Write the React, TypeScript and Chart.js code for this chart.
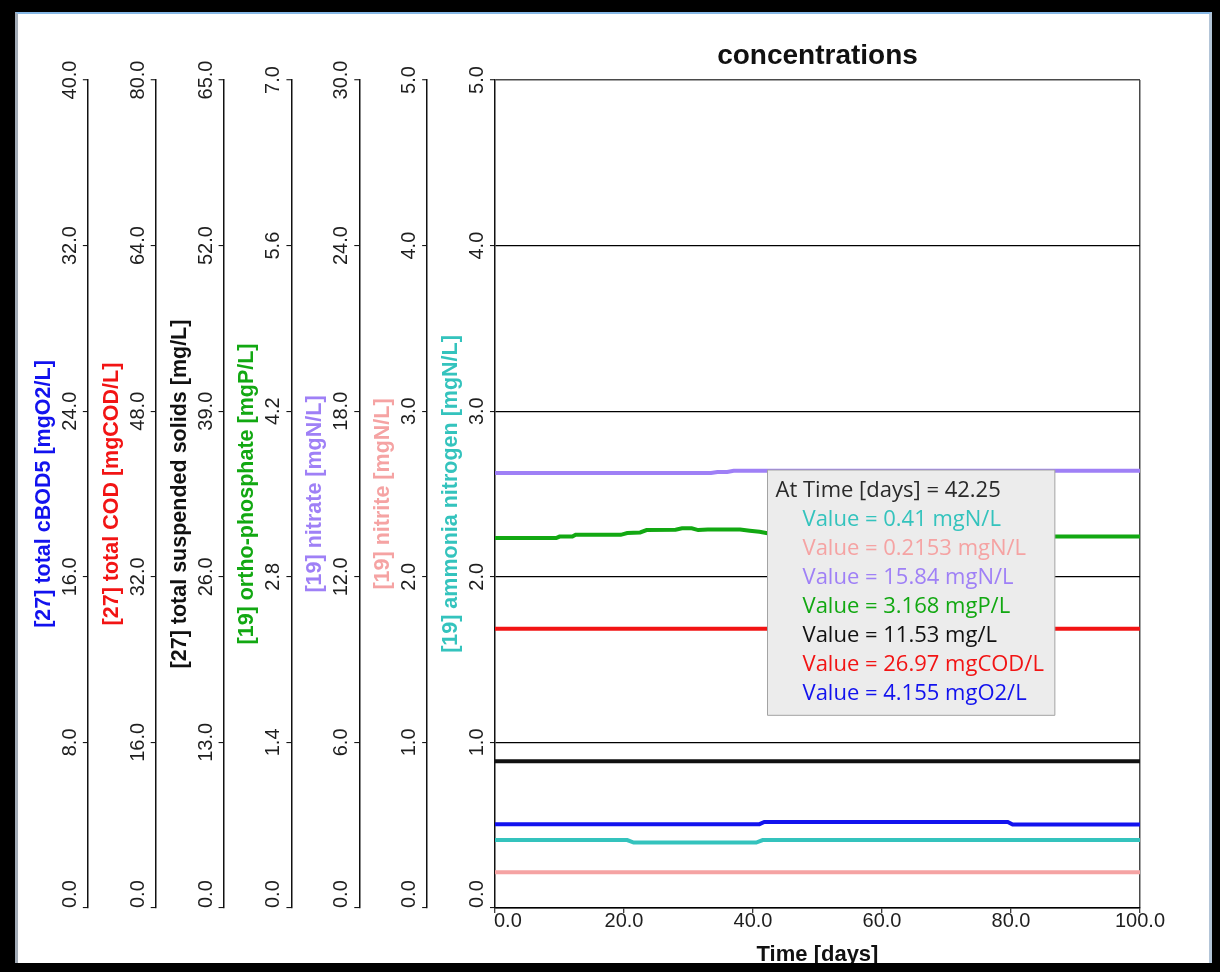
import { useEffect, useRef } from 'react';
import { Chart, registerables, Tooltip } from 'chart.js';

Chart.register(...registerables);

// Simulation output, sampled at the change points of each state variable (time in days)
const bodTime = [0, 41, 41.75, 42.25, 79.5, 80.25, 100];
const bodValues = [4.05, 4.05, 4.155, 4.155, 4.155, 4.03, 4.03];

const codTime = [0, 42.25, 100];
const codValues = [26.97, 26.97, 26.97];

const tssTime = [0, 42.25, 100];
const tssValues = [11.53, 11.53, 11.53];

const po4Time = [0, 9.5, 10, 12, 12.5, 19.5, 20.5, 22.5, 23.5, 28, 29, 30.5, 31.5, 33, 38, 39.5, 41, 42.25, 50, 60, 70, 80, 100];
const po4Values = [3.127, 3.127, 3.14, 3.14, 3.155, 3.155, 3.17, 3.175, 3.195, 3.198, 3.21, 3.21, 3.195, 3.2, 3.2, 3.19, 3.18, 3.168, 3.155, 3.148, 3.142, 3.14, 3.14];

const no3Time = [0, 33.5, 34.5, 36, 37, 42.25, 100];
const no3Values = [15.76, 15.76, 15.8, 15.8, 15.84, 15.84, 15.84];

const no2Time = [0, 42.25, 100];
const no2Values = [0.2153, 0.2153, 0.2153];

const nh4Time = [0, 20.5, 21.5, 40.5, 41.5, 42.25, 100];
const nh4Values = [0.41, 0.41, 0.395, 0.395, 0.41, 0.41, 0.41];

const seriesTimes = [bodTime, codTime, tssTime, po4Time, no3Time, no2Time, nh4Time];
const seriesValues = [bodValues, codValues, tssValues, po4Values, no3Values, no2Values, nh4Values];

const axisTitles = [
  '[27] total cBOD5 [mgO2/L]',
  '[27] total COD [mgCOD/L]',
  '[27] total suspended solids [mg/L]',
  '[19] ortho-phosphate [mgP/L]',
  '[19] nitrate [mgN/L]',
  '[19] nitrite [mgN/L]',
  '[19] ammonia nitrogen [mgN/L]',
];
const seriesUnits = ['mgO2/L', 'mgCOD/L', 'mg/L', 'mgP/L', 'mgN/L', 'mgN/L', 'mgN/L'];
const axisMax = [40, 80, 65, 7, 30, 5, 5];
const axisSteps = [8, 16, 13, 1.4, 6, 1, 1];
const seriesColors = ['#1212ee', '#f21414', '#111111', '#12a812', '#9f80f6', '#f5a3a3', '#34c3bd'];

const timeMax = 100;
const timeStep = 20;
const probeTime = 42.25;
// tooltip rows, top to bottom
const tooltipOrder = [6, 5, 4, 3, 2, 1, 0];

const FONT = "'Liberation Sans', Arial, Helvetica, sans-serif";
const TIP_FONT = "'Open Sans', 'Noto Sans', sans-serif";

const AXIS_W = 67.857;
const LABEL_GAP = 17.5;

const tickLabelPlugin = {
  id: 'tickLabels',
  afterDraw(chart: any) {
    const ctx = chart.ctx as CanvasRenderingContext2D;
    ctx.save();
    ctx.fillStyle = '#1e1e1e';
    ctx.font = `20px ${FONT}`;
    ctx.textBaseline = 'middle';
    axisMax.forEach((_, i) => {
      const scale = chart.scales['y' + i];
      scale.ticks.forEach((t: any) => {
        const y = scale.getPixelForValue(t.value);
        ctx.save();
        ctx.translate(scale.right - LABEL_GAP, y);
        ctx.rotate(-Math.PI / 2);
        ctx.textAlign = t.value === scale.min ? 'left' : 'center';
        ctx.fillText(Number(t.value).toFixed(1), 0, 0);
        ctx.restore();
      });
    });
    const xs = chart.scales.x;
    xs.ticks.forEach((t: any) => {
      const x = xs.getPixelForValue(t.value);
      ctx.textAlign = t.value === xs.min ? 'left' : 'center';
      ctx.fillText(Number(t.value).toFixed(1), t.value === xs.min ? x - 1 : x, xs.top + 13);
    });
    ctx.restore();
  },
};

(Tooltip.positioners as any).probe = function (this: any) {
  const chart = this.chart;
  return { x: chart.scales.x.getPixelForValue(probeTime), y: 455 };
};

export default function App() {
  const canvasRef = useRef<HTMLCanvasElement>(null);

  useEffect(() => {
    const canvas = canvasRef.current;
    if (!canvas) return;

    const datasets = seriesValues.map((vals, i) => ({
      label: axisTitles[i],
      data: vals.map((v, k) => ({ x: seriesTimes[i][k], y: v })),
      yAxisID: 'y' + i,
      borderColor: seriesColors[i],
      backgroundColor: seriesColors[i],
      borderWidth: 4,
      pointRadius: 0,
      pointHoverRadius: 0,
      tension: 0,
      fill: false,
    }));

    const scales: any = {
      x: {
        type: 'linear',
        position: 'bottom',
        min: 0,
        max: timeMax,
        ticks: { stepSize: timeStep, display: false },
        grid: {
          drawOnChartArea: true,
          color: (c: any) => (c.tick && c.tick.value === timeMax ? '#4a4a4a' : 'rgba(0,0,0,0)'),
          lineWidth: 1.5,
          tickColor: '#000',
          tickLength: 5,
          tickWidth: 1,
        },
        border: { display: true, color: '#000', width: 1.5 },
        title: {
          display: true,
          text: 'Time [days]',
          color: '#111',
          font: { family: FONT, size: 22, weight: 'bold', lineHeight: 0.82 },
          padding: { top: 0, bottom: 0 },
        },
        afterFit: (s: any) => {
          s.height = 56;
        },
      },
    };

    axisMax.forEach((max, i) => {
      const main = i === axisMax.length - 1;
      scales['y' + i] = {
        type: 'linear',
        position: 'left',
        weight: axisMax.length - i,
        min: 0,
        max,
        ticks: { stepSize: axisSteps[i], display: false },
        grid: {
          drawOnChartArea: main,
          drawTicks: true,
          tickLength: 5,
          tickColor: '#000',
          tickWidth: 1,
          color: (c: any) => (c.tick && c.tick.value === max ? '#4a4a4a' : '#000'),
          lineWidth: (c: any) => (c.tick && c.tick.value === max ? 1.5 : 1.2),
        },
        border: { display: true, color: '#111', width: 1.5 },
        title: {
          display: true,
          text: axisTitles[i],
          color: seriesColors[i],
          font: { family: FONT, size: 21.5, weight: 'bold', lineHeight: 1.2 },
          padding: { top: 11, bottom: 0 },
        },
        afterFit: (s: any) => {
          s.width = AXIS_W;
        },
      };
    });

    const chart = new Chart(canvas, {
      type: 'line',
      data: { datasets } as any,
      options: {
        responsive: false,
        animation: false,
        events: [],
        layout: { padding: { left: 5, right: 68, top: 0, bottom: 0 } },
        plugins: {
          legend: { display: false },
          title: {
            display: true,
            text: 'concentrations',
            fullSize: false,
            color: '#111',
            font: { family: FONT, size: 28, weight: 'bold', lineHeight: 1.2 },
            padding: { top: 24.2, bottom: 7.2 },
          },
          tooltip: {
            enabled: true,
            animation: false,
            position: 'probe' as any,
            xAlign: 'left',
            yAlign: 'top',
            caretSize: 0,
            caretPadding: 0,
            cornerRadius: 0,
            backgroundColor: '#ececec',
            borderColor: '#a3a3a3',
            borderWidth: 1,
            padding: { left: 8, right: 11, top: 6, bottom: 7 },
            titleColor: '#2a2a2a',
            titleFont: { family: TIP_FONT, size: 22, weight: 'normal', lineHeight: 1.32 },
            titleMarginBottom: 0,
            titleSpacing: 0,
            bodyFont: { family: TIP_FONT, size: 22, weight: 'normal', lineHeight: 1.32 },
            bodySpacing: 0,
            displayColors: true,
            boxWidth: 25,
            boxHeight: 1,
            boxPadding: 0,
            multiKeyBackground: 'rgba(0,0,0,0)',
            callbacks: {
              title: (items: any[]) => `At Time [days] = ${items[0].parsed.x}`,
              label: (item: any) => `Value = ${item.parsed.y} ${seriesUnits[item.datasetIndex]}`,
              labelColor: () => ({ borderColor: 'rgba(0,0,0,0)', backgroundColor: 'rgba(0,0,0,0)', borderWidth: 0 }),
              labelTextColor: (item: any) => seriesColors[item.datasetIndex],
            },
          } as any,
        },
        scales,
      },
      plugins: [tickLabelPlugin],
    });

    const active = tooltipOrder.map((d) => ({ datasetIndex: d, index: seriesTimes[d].indexOf(probeTime) }));
    chart.tooltip?.setActiveElements(active, { x: chart.scales.x.getPixelForValue(probeTime), y: 455 });
    chart.update();

    return () => chart.destroy();
  }, []);

  return (
    <div style={{ position: 'fixed', left: 0, top: 0, width: 1220, height: 972, background: '#000', overflow: 'hidden' }}>
      <div
        style={{
          position: 'absolute',
          left: 15,
          top: 12,
          width: 1197,
          height: 951,
          background: '#fff',
          boxSizing: 'border-box',
          borderTop: '2px solid #86b8e6',
          borderLeft: '3px solid #a2abb6',
          borderRight: '3px solid #b3c5d8',
        }}
      />
      <div style={{ position: 'absolute', left: 15, top: 15, width: 1193, height: 948, overflow: 'hidden' }}>
        <canvas
          ref={canvasRef}
          width={1193}
          height={949}
          style={{ position: 'absolute', left: 0, top: 0, width: 1193, height: 949 }}
        />
      </div>
    </div>
  );
}
